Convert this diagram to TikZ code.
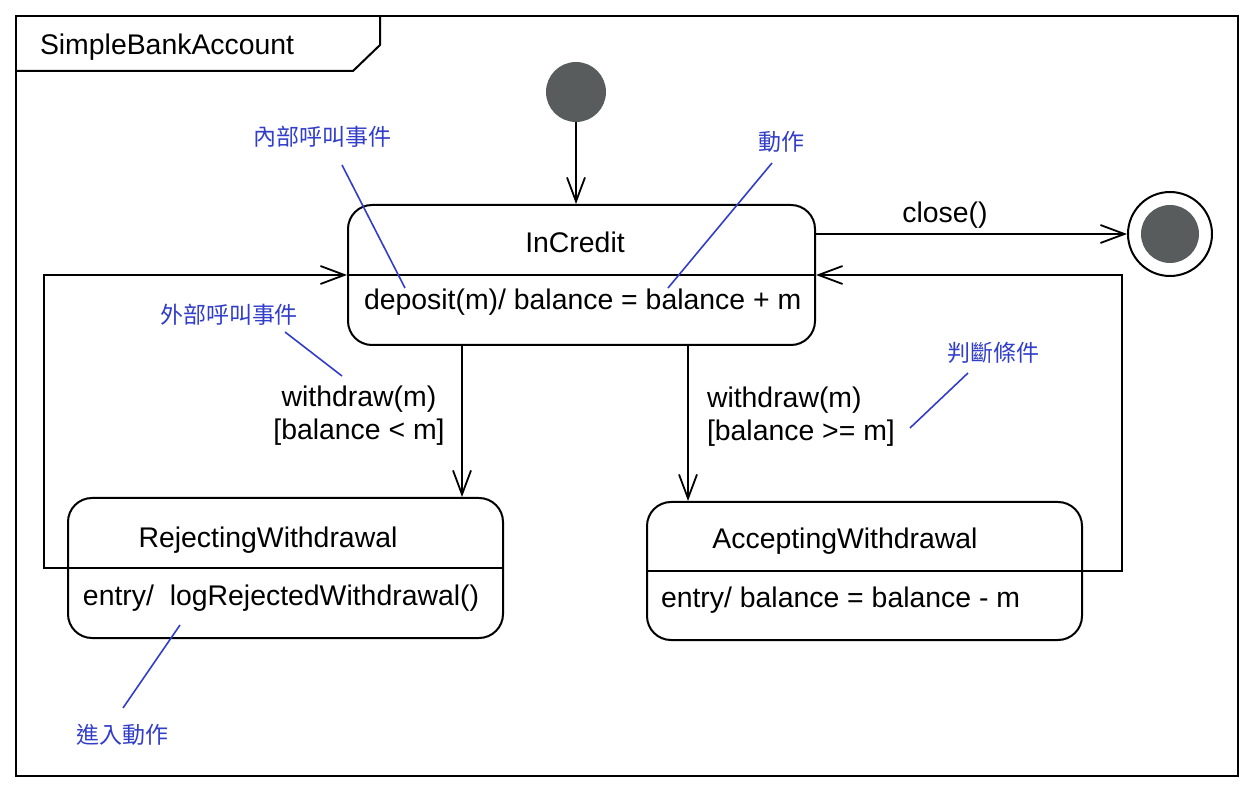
\documentclass[tikz,border=0pt]{standalone}
\usepackage{fontspec}
\setmainfont{Liberation Sans}
\newfontfamily\cjk{Noto Sans CJK TC}
\usetikzlibrary{arrows.meta}
\definecolor{noteblue}{RGB}{50,62,200}
\definecolor{dotgray}{RGB}{88,92,92}
\tikzset{
  statebox/.style={draw, rounded corners=12pt, inner sep=0pt},
  lbl/.style={font=\fontsize{14.2}{16.5}\selectfont, inner sep=0pt},
  note/.style={font=\cjk\fontsize{11.5}{13}\selectfont, text=noteblue, inner sep=0pt},
  noteline/.style={noteblue, line width=0.8pt},
  trans/.style={-{Straight Barb[length=12pt,width=9pt,line width=0.9pt]}}
}

\begin{document}
\begin{tikzpicture}[x=0.5pt,y=-0.5pt,line width=1pt]
\useasboundingbox (0,0) rectangle (1260,791);
\draw (16,16) rectangle (1238,776);
\draw (16,71) -- (353,71) -- (380,45) -- (380,16);
\node[lbl, anchor=base west] (title) at (39,55) {SimpleBankAccount};

\node[circle, fill=dotgray, draw=dotgray, minimum size=29pt, inner sep=0pt] (init) at (576,92) {};
\node[circle, draw, fill=white, minimum size=42pt, inner sep=0pt] (final) at (1170,234) {};
\node[circle, fill=dotgray, minimum size=29pt, inner sep=0pt] (finalDot) at (final) {};

\node[statebox, minimum width=233.5pt, minimum height=70pt] (inCredit) at (581.5,275) {};
\node[statebox, minimum width=217.5pt, minimum height=70pt] (rejecting) at (285.5,568) {};
\node[statebox, minimum width=217.5pt, minimum height=69pt] (accepting) at (864.5,571) {};
\draw (inCredit.west) -- (inCredit.east);
\draw (rejecting.west) -- (rejecting.east);
\draw (accepting.west) -- (accepting.east);

\node[lbl, anchor=base] (inCreditName) at (575,253) {InCredit};
\node[lbl, anchor=base west] (inCreditBody) at (363,310) {deposit(m)/ balance = balance + m};
\node[lbl, anchor=base] (rejectingName) at (268,547) {RejectingWithdrawal};
\node[lbl, anchor=base west] (rejectingBody) at (82,605) {entry/\ \ logRejectedWithdrawal()};
\node[lbl, anchor=base] (acceptingName) at (845,548) {AcceptingWithdrawal};
\node[lbl, anchor=base west] (acceptingBody) at (660,607) {entry/ balance = balance - m};

\coordinate (wLeft) at (462,0);
\coordinate (wRight) at (688,0);
\coordinate (lTop) at (44,275);
\coordinate (rTop) at (1122,275);

\draw[trans] (init) -- (init |- inCredit.north);
\draw[trans] (inCredit.east |- final) -- (final.west);
\draw[trans] (inCredit.south -| wLeft) -- (rejecting.north -| wLeft);
\draw[trans] (inCredit.south -| wRight) -- (accepting.north -| wRight);
\draw[trans] (rejecting.west) -| (lTop) -- (inCredit.west);
\draw[trans] (accepting.east) -| (rTop) -- (inCredit.east);

\node[lbl] (closeLbl) at (945,215) {close()};
\node[lbl, align=center] (rejectLbl) at (359,416) {withdraw(m)\\{}[balance < m]};
\node[lbl, align=left, anchor=west] (acceptLbl) at (706,417) {withdraw(m)\\{}[balance >= m]};

\node[note] (noteInner) at (322,137) {內部呼叫事件};
\node[note] (noteAction) at (781,142) {動作};
\node[note] (noteOuter) at (229,315) {外部呼叫事件};
\node[note] (noteGuard) at (993,353) {判斷條件};
\node[note] (noteEntry) at (122,735) {進入動作};

\coordinate (inner1) at (342,165);
\coordinate (inner2) at (405,288);
\coordinate (action1) at (772,163);
\coordinate (action2) at (668,288);
\coordinate (outer1) at (285,332);
\coordinate (outer2) at (342,376);
\coordinate (guard1) at (968,373);
\coordinate (guard2) at (910,428);
\coordinate (entry1) at (123,708);
\coordinate (entry2) at (180,625);
\draw[noteline] (inner1) -- (inner2);
\draw[noteline] (action1) -- (action2);
\draw[noteline] (outer1) -- (outer2);
\draw[noteline] (guard1) -- (guard2);
\draw[noteline] (entry1) -- (entry2);
\end{tikzpicture}
\end{document}
